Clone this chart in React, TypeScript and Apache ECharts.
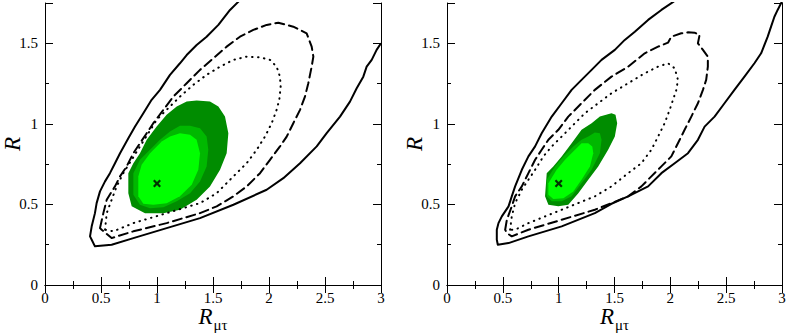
import React, { useEffect, useRef } from "react";
import * as echarts from "echarts";

type P = [number, number];

// ---------- data ----------
const xRange = [0, 3];
const yRange = [0, 1.75];
const bestFit: P = [1, 0.63];

const leftSolid: P[] = [
  [1.73, 1.76], [1.652, 1.707], [1.548, 1.614], [1.443, 1.541], [1.354, 1.489], [1.265, 1.427],
  [1.205, 1.376], [1.116, 1.304], [1.027, 1.211], [0.952, 1.149], [0.878, 1.066], [0.804, 0.983],
  [0.744, 0.911], [0.67, 0.818], [0.625, 0.756], [0.58, 0.694], [0.536, 0.643], [0.491, 0.581],
  [0.461, 0.508], [0.446, 0.446], [0.417, 0.364], [0.402, 0.302], [0.417, 0.281], [0.446, 0.24],
  [0.595, 0.25], [0.789, 0.291], [1.086, 0.353], [1.384, 0.415], [1.682, 0.498], [1.979, 0.591],
  [2.128, 0.663], [2.277, 0.756], [2.426, 0.86], [2.515, 0.942], [2.634, 1.045], [2.723, 1.138],
  [2.783, 1.221], [2.842, 1.293], [2.872, 1.355], [2.917, 1.397], [2.961, 1.459], [3.0, 1.5],
];
const leftDashed: P[] = [
  [0.491, 0.353], [0.521, 0.446], [0.551, 0.529], [0.625, 0.612], [0.67, 0.674], [0.729, 0.736],
  [0.789, 0.818], [0.848, 0.88], [0.908, 0.942], [0.967, 1.004], [1.057, 1.087], [1.146, 1.169],
  [1.265, 1.252], [1.384, 1.335], [1.503, 1.407], [1.622, 1.479], [1.741, 1.541], [1.86, 1.583],
  [1.979, 1.614], [2.083, 1.628], [2.217, 1.603], [2.336, 1.562], [2.381, 1.479], [2.396, 1.417],
  [2.381, 1.355], [2.366, 1.304], [2.351, 1.252], [2.321, 1.169], [2.277, 1.087], [2.217, 1.004],
  [2.158, 0.921], [2.098, 0.86], [2.009, 0.777], [1.92, 0.694], [1.801, 0.612], [1.682, 0.55],
  [1.533, 0.488], [1.384, 0.446], [1.086, 0.384], [0.789, 0.333], [0.595, 0.291], [0.506, 0.343],
  [0.491, 0.353],
];
const leftDotted: P[] = [
  [0.536, 0.343], [0.551, 0.446], [0.595, 0.529], [0.64, 0.612], [0.699, 0.694], [0.774, 0.777],
  [0.848, 0.86], [0.923, 0.942], [0.997, 1.025], [1.086, 1.087], [1.205, 1.169], [1.324, 1.242],
  [1.443, 1.304], [1.563, 1.355], [1.682, 1.397], [1.801, 1.417], [1.92, 1.413], [2.009, 1.397],
  [2.068, 1.355], [2.098, 1.293], [2.104, 1.231], [2.092, 1.149], [2.068, 1.087], [2.024, 1.004],
  [1.964, 0.921], [1.89, 0.839], [1.801, 0.756], [1.682, 0.674], [1.533, 0.57], [1.384, 0.508],
  [1.086, 0.446], [0.789, 0.384], [0.61, 0.333], [0.536, 0.343],
];
const leftDark: P[] = [
  [0.744, 0.694], [0.744, 0.57], [0.774, 0.488], [0.893, 0.446], [1.057, 0.446], [1.205, 0.467],
  [1.354, 0.529], [1.473, 0.612], [1.563, 0.715], [1.622, 0.818], [1.637, 0.942], [1.607, 1.045],
  [1.548, 1.107], [1.473, 1.138], [1.354, 1.145], [1.265, 1.138], [1.176, 1.107], [1.086, 1.056],
  [0.997, 0.983], [0.908, 0.901], [0.848, 0.818], [0.789, 0.756],
];
const leftMid: P[] = [
  [0.789, 0.694], [0.789, 0.56], [0.848, 0.498], [0.938, 0.477], [1.057, 0.483], [1.176, 0.519],
  [1.295, 0.57], [1.384, 0.643], [1.443, 0.736], [1.458, 0.839], [1.443, 0.921], [1.384, 0.973],
  [1.295, 0.988], [1.205, 0.988], [1.116, 0.952], [1.027, 0.901], [0.938, 0.839], [0.848, 0.777],
];
const leftBright: P[] = [
  [0.833, 0.674], [0.833, 0.55], [0.878, 0.504], [0.967, 0.498], [1.086, 0.508], [1.205, 0.55],
  [1.31, 0.622], [1.369, 0.715], [1.384, 0.818], [1.354, 0.901], [1.295, 0.932], [1.205, 0.942],
  [1.116, 0.921], [1.042, 0.89], [0.938, 0.818], [0.863, 0.746],
];

const rightSolid: P[] = [
  [2.033, 1.76], [1.92, 1.707], [1.801, 1.645], [1.682, 1.572], [1.592, 1.521], [1.503, 1.459],
  [1.384, 1.397], [1.295, 1.335], [1.205, 1.273], [1.116, 1.211], [1.027, 1.128], [0.938, 1.045],
  [0.848, 0.942], [0.789, 0.86], [0.729, 0.798], [0.67, 0.715], [0.61, 0.612], [0.58, 0.55],
  [0.551, 0.488], [0.491, 0.426], [0.461, 0.384], [0.446, 0.343], [0.446, 0.281], [0.455, 0.25],
  [0.551, 0.26], [0.729, 0.302], [1.027, 0.364], [1.324, 0.446], [1.473, 0.504], [1.622, 0.55],
  [1.801, 0.612], [1.92, 0.694], [2.039, 0.756], [2.158, 0.818], [2.247, 0.901], [2.307, 0.983],
  [2.396, 1.045], [2.485, 1.128], [2.574, 1.211], [2.664, 1.293], [2.753, 1.376], [2.813, 1.438],
  [2.872, 1.541], [2.902, 1.603], [2.932, 1.665], [2.961, 1.707], [3.0, 1.76],
];
const rightDashed: P[] = [
  [0.521, 0.343], [0.536, 0.405], [0.58, 0.488], [0.61, 0.55], [0.67, 0.612], [0.729, 0.694],
  [0.789, 0.777], [0.848, 0.839], [0.908, 0.901], [0.997, 0.963], [1.086, 1.045], [1.205, 1.128],
  [1.324, 1.211], [1.473, 1.293], [1.622, 1.355], [1.771, 1.438], [1.89, 1.479], [1.979, 1.504],
  [2.009, 1.541], [2.098, 1.562], [2.158, 1.568], [2.217, 1.566], [2.262, 1.552], [2.247, 1.5],
  [2.292, 1.459], [2.336, 1.417], [2.336, 1.355], [2.321, 1.273], [2.292, 1.211], [2.247, 1.128],
  [2.188, 1.045], [2.128, 0.963], [2.068, 0.88], [2.009, 0.798], [1.92, 0.736], [1.83, 0.674],
  [1.741, 0.612], [1.622, 0.55], [1.473, 0.508], [1.324, 0.467], [1.027, 0.405], [0.729, 0.343],
  [0.58, 0.302], [0.536, 0.322], [0.521, 0.343],
];
const rightDotted: P[] = [
  [0.565, 0.343], [0.58, 0.426], [0.61, 0.508], [0.67, 0.591], [0.729, 0.653], [0.789, 0.715],
  [0.863, 0.798], [0.938, 0.86], [1.027, 0.921], [1.116, 0.983], [1.235, 1.066], [1.354, 1.128],
  [1.473, 1.19], [1.622, 1.252], [1.771, 1.314], [1.89, 1.355], [1.979, 1.376], [2.039, 1.345],
  [2.068, 1.273], [2.054, 1.211], [2.024, 1.149], [1.994, 1.087], [1.949, 1.004], [1.89, 0.921],
  [1.83, 0.839], [1.741, 0.756], [1.622, 0.694], [1.473, 0.612], [1.324, 0.55], [1.027, 0.467],
  [0.729, 0.384], [0.61, 0.343], [0.565, 0.343],
];
const rightDark: P[] = [
  [0.893, 0.694], [0.878, 0.55], [0.908, 0.498], [0.997, 0.488], [1.086, 0.498], [1.176, 0.57],
  [1.265, 0.653], [1.354, 0.736], [1.443, 0.839], [1.503, 0.921], [1.524, 1.004], [1.509, 1.056],
  [1.473, 1.066], [1.369, 1.045], [1.295, 1.004], [1.205, 0.963], [1.116, 0.88], [1.027, 0.798],
  [0.952, 0.736],
];
const rightMid: P[] = [
  [0.893, 0.653], [0.893, 0.55], [0.938, 0.519], [1.027, 0.519], [1.116, 0.55], [1.205, 0.632],
  [1.295, 0.715], [1.369, 0.818], [1.384, 0.901], [1.369, 0.942], [1.324, 0.946], [1.265, 0.921],
  [1.205, 0.901], [1.131, 0.86], [1.042, 0.798], [0.967, 0.736],
];
const rightBright: P[] = [
  [0.908, 0.632], [0.908, 0.56], [0.952, 0.533], [1.042, 0.539], [1.131, 0.581], [1.205, 0.653],
  [1.28, 0.736], [1.31, 0.818], [1.301, 0.86], [1.265, 0.88], [1.205, 0.88], [1.146, 0.839],
  [1.057, 0.777], [0.982, 0.715],
];

const panels = [
  { solid: leftSolid, dashed: leftDashed, dotted: leftDotted, fills: [leftDark, leftMid, leftBright] },
  { solid: rightSolid, dashed: rightDashed, dotted: rightDotted, fills: [rightDark, rightMid, rightBright] },
];

// ---------- styling ----------
const FONT = "'Liberation Serif', 'Times New Roman', 'DejaVu Serif', serif";
const fillColors = ["#008c00", "#00b800", "#00ff00"];
const crossPath = "path://M0,2L2,0L5,3L8,0L10,2L7,5L10,8L8,10L5,7L2,10L0,8L3,5Z";

export default function App() {
  const ref = useRef<HTMLDivElement>(null);

  useEffect(() => {
    if (!ref.current) return;
    const chart = echarts.init(ref.current, undefined, { renderer: "svg" });

    const grids = [
      { left: 45, top: 3, width: 336, height: 282, outerBoundsMode: "none", containLabel: false },
      { left: 447, top: 3, width: 335, height: 282, outerBoundsMode: "none", containLabel: false },
    ];

    const lineStyleAxis = { color: "#000", width: 1 };
    const xAxes: any[] = [];
    const yAxes: any[] = [];
    grids.forEach((_, g) => {
      const xBase = {
        gridIndex: g,
        type: "value",
        min: xRange[0],
        max: xRange[1],
        interval: 0.5,
        splitLine: { show: false },
        axisLine: { show: true, lineStyle: lineStyleAxis },
        axisTick: { show: true, inside: true, length: 8, lineStyle: lineStyleAxis },
        minorTick: { show: true, splitNumber: 2, length: 4, lineStyle: lineStyleAxis },
        minorSplitLine: { show: false },
      };
      xAxes.push({
        ...xBase,
        position: "bottom",
        axisLabel: { color: "#000", fontSize: 15, fontFamily: FONT, margin: 5 },
        name: "{r|R}{s|\u03bc\u03c4}",
        nameLocation: "middle",
        nameGap: 20,
        nameMoveOverlap: false,
        nameTextStyle: {
          rich: {
            r: { fontFamily: FONT, fontStyle: "italic", fontSize: 23, color: "#000", lineHeight: 20, verticalAlign: "top" },
            s: { fontFamily: FONT, fontSize: 15, color: "#000", lineHeight: 16, padding: [12, 0, 0, 1], verticalAlign: "top" },
          },
        },
      });
      xAxes.push({ ...xBase, position: "top", axisLabel: { show: false } });

      const yMajor = {
        gridIndex: g,
        type: "value",
        min: yRange[0],
        max: yRange[1],
        interval: 0.5,
        splitLine: { show: false },
        axisLine: { show: true, lineStyle: lineStyleAxis },
        axisTick: { show: true, inside: true, length: 8, lineStyle: lineStyleAxis },
      };
      const yMinor = {
        gridIndex: g,
        type: "value",
        min: yRange[0],
        max: yRange[1],
        interval: 0.25,
        splitLine: { show: false },
        axisLine: { show: false },
        axisLabel: { show: false },
        axisTick: { show: true, inside: true, length: 4, lineStyle: lineStyleAxis },
      };
      yAxes.push({
        ...yMajor,
        position: "left",
        axisLabel: {
          color: "#000",
          fontSize: 15,
          fontFamily: FONT,
          margin: 7,
          formatter: (v: number) => (v > 1.6 ? "" : String(v)),
        },
        name: "R",
        nameLocation: "middle",
        nameGap: 23,
        nameMoveOverlap: false,
        nameTextStyle: { fontFamily: FONT, fontStyle: "italic", fontSize: 23, lineHeight: 20, color: "#000" },
      });
      yAxes.push({ ...yMinor, position: "left" });
      yAxes.push({ ...yMajor, position: "right", axisLabel: { show: false } });
      yAxes.push({ ...yMinor, position: "right" });
    });

    const series: any[] = [];
    panels.forEach((p, g) => {
      const xi = g * 2;
      const yi = g * 4;
      p.fills.forEach((poly, k) => {
        series.push({
          type: "custom",
          xAxisIndex: xi,
          yAxisIndex: yi,
          z: 2 + k,
          data: [poly[0]],
          renderItem: (_params: any, api: any) => ({
            type: "polygon",
            shape: { points: poly.map((pt) => api.coord(pt)) },
            style: { fill: fillColors[k], stroke: "none" },
          }),
        });
      });
      const lines: [P[], any][] = [
        [p.solid, "solid"],
        [p.dashed, [9, 5]],
        [p.dotted, [0.5, 5.5]],
      ];
      lines.forEach(([pts, type]) => {
        series.push({
          type: "line",
          xAxisIndex: xi,
          yAxisIndex: yi,
          z: 10,
          data: pts,
          showSymbol: false,
          symbol: "none",
          smooth: false,
          lineStyle: { color: "#000", width: 2, type, cap: type === "solid" ? "butt" : "round", join: "round" },
        });
      });
      series.push({
        type: "scatter",
        xAxisIndex: xi,
        yAxisIndex: yi,
        z: 12,
        data: [bestFit],
        symbol: crossPath,
        symbolSize: 8,
        itemStyle: { color: "#000" },
      });
    });

    chart.setOption({
      animation: false,
      backgroundColor: "#fff",
      grid: grids,
      xAxis: xAxes,
      yAxis: yAxes,
      series,
    });
    return () => chart.dispose();
  }, []);

  return (
    <div
      ref={ref}
      style={{ position: "absolute", left: 0, top: 0, width: 789, height: 334, background: "#fff" }}
    />
  );
}
